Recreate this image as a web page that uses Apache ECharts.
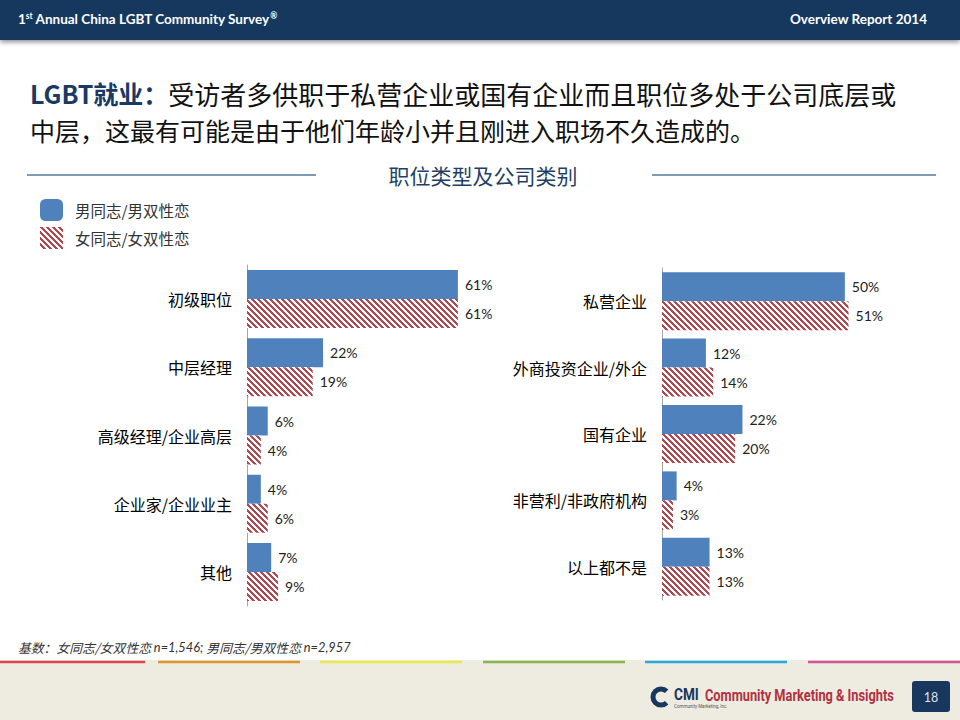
<!DOCTYPE html>
<html>
<head>
<meta charset="utf-8">
<script src="https://cdn.jsdelivr.net/npm/echarts@6/dist/echarts.min.js"></script>
<style>html,body{margin:0;padding:0;background:#fff;}#c{width:960px;height:720px;}</style>
</head>
<body>
<div id="c"></div>
<script>
// ---- data ----
const seriesNames = ['男同志/男双性恋', '女同志/女双性恋'];
const positionCats = ['初级职位', '中层经理', '高级经理/企业高层', '企业家/企业业主', '其他'];
const positionMale = [61, 22, 6, 4, 7];
const positionFemale = [61, 19, 4, 6, 9];
const companyCats = ['私营企业', '外商投资企业/外企', '国有企业', '非营利/非政府机构', '以上都不是'];
const companyMale = [50, 12, 22, 4, 13];
const companyFemale = [51, 14, 20, 3, 13];

// ---- hatch pattern ----
function hatch() {
  const n = 6, cv = document.createElement('canvas');
  cv.width = n; cv.height = n;
  const ctx = cv.getContext('2d');
  ctx.fillStyle = '#ffffff'; ctx.fillRect(0, 0, n, n);
  ctx.fillStyle = '#b04a50';
  for (let x = 0; x < n; x++) for (let y = 0; y < n; y++) {
    if ((((x - y) % n) + n) % n < 3) ctx.fillRect(x, y, 1, 1);
  }
  return cv.toDataURL();
}
const hatchFill = { image: hatch(), repeat: 'repeat' };
const blue = '#4f81bd';
const navy = '#17375e';
const cjk = '"Noto Sans CJK SC", "Noto Sans", sans-serif';
const lat = 'Lato, "Noto Sans CJK SC", sans-serif';

const chart = echarts.init(document.getElementById('c'), null, { renderer: 'svg' });

function barSeries(name, data, idx, fill) {
  return {
    type: 'bar', name: name, data: data, xAxisIndex: idx, yAxisIndex: idx,
    barWidth: 29, barGap: '0%',
    itemStyle: { color: fill },
    label: { show: true, position: 'right', distance: 7, formatter: '{c}%', fontSize: 14, color: '#222', fontFamily: lat },
    emphasis: { disabled: true }, animation: false
  };
}
function yAx(idx, cats) {
  return {
    type: 'category', gridIndex: idx, data: cats, inverse: true,
    axisLine: { show: true, lineStyle: { color: '#a6a6a6', width: 1 } },
    axisTick: { show: false },
    axisLabel: { margin: 15, fontSize: 16, color: '#000', fontFamily: cjk }
  };
}
function xAx(idx) {
  return { type: 'value', gridIndex: idx, min: 0, max: 70, show: false, splitLine: { show: false } };
}

const palette = [
  ['#e0434d', 0, 145], ['#d9982c', 158, 300], ['#e9e84c', 320, 462],
  ['#8db352', 483, 625], ['#29a9dc', 645, 787], ['#d2568f', 808, 960]
];

const graphics = [
  { type: 'rect', shape: { x: 0, y: 660, width: 960, height: 60 }, style: { fill: '#eeebe1' }, silent: true },
  { type: 'rect', shape: { x: 0, y: 0, width: 960, height: 40 }, style: { fill: navy, shadowBlur: 5, shadowColor: 'rgba(0,0,0,0.45)', shadowOffsetY: 2 }, silent: true },
  { type: 'text', x: 18, y: 19, style: { text: '{a|1}{s|st}{a| Annual China LGBT Community Survey}{s|®}', verticalAlign: 'middle',
      rich: { a: { fill: '#fff', fontSize: 13.5, fontWeight: 'bold', fontFamily: lat }, s: { fill: '#fff', fontSize: 8.5, fontWeight: 'bold', fontFamily: lat, verticalAlign: 'top', padding: [0,0,6,0] } } } },
  { type: 'text', x: 927, y: 19, style: { text: 'Overview Report 2014', fill: '#fff', fontSize: 13.5, fontWeight: 'bold', fontFamily: lat, align: 'right', verticalAlign: 'middle' } },
  { type: 'text', x: 30, y: 93, style: {
      text: '{b|LGBT就业：}{n|受访者多供职于私营企业或国有企业而且职位多处于公司底层或}',
      verticalAlign: 'middle',
      rich: {
        b: { fill: '#1b3a63', fontSize: 25, fontWeight: 'bold', fontFamily: cjk, lineHeight: 28 },
        n: { fill: '#111', fontSize: 26, fontFamily: cjk, lineHeight: 28 }
      } } },
  { type: 'text', x: 30, y: 129.5, style: { text: '中层，这最有可能是由于他们年龄小并且刚进入职场不久造成的。', fill: '#111', fontSize: 25, lineHeight: 28, fontFamily: cjk, verticalAlign: 'middle' } },
  { type: 'line', shape: { x1: 27, y1: 175, x2: 316, y2: 175 }, style: { stroke: '#5577a3', lineWidth: 1.5 } },
  { type: 'line', shape: { x1: 652, y1: 175, x2: 936, y2: 175 }, style: { stroke: '#5577a3', lineWidth: 1.5 } },
  { type: 'text', x: 483, y: 175, style: { text: '职位类型及公司类别', fill: '#1f3f66', fontSize: 21, fontFamily: cjk, align: 'center', verticalAlign: 'middle' } },
  { type: 'text', x: 18, y: 647, style: {
      text: '{c|基数：女同志/女双性恋 }{l|n=1,546; }{c|男同志/男双性恋 }{l|n=2,957}', verticalAlign: 'middle',
      rich: { c: { fill: '#333', fontSize: 12.8, fontStyle: 'italic', fontFamily: cjk }, l: { fill: '#333', fontSize: 12.8, fontStyle: 'italic', fontFamily: lat } } } },
  // logo
  { type: 'arc', shape: { cx: 661, cy: 697, r: 8, startAngle: Math.PI * 0.25, endAngle: Math.PI * 1.75 }, style: { stroke: navy, lineWidth: 5, fill: 'none' } },
  { type: 'text', x: 674, y: 695, scaleX: 0.85, style: { text: 'CMI', fill: navy, fontSize: 16, fontWeight: 'bold', fontFamily: 'Roboto, sans-serif', verticalAlign: 'middle' } },
  { type: 'text', x: 674, y: 706, style: { text: 'Community Marketing, Inc.', fill: '#555', fontSize: 4.5, fontFamily: 'Roboto, sans-serif', verticalAlign: 'middle' } },
  { type: 'text', x: 705, y: 696, scaleX: 0.8, style: { text: 'Community Marketing & Insights', fill: '#b0313f', fontSize: 16, fontWeight: 'bold', fontFamily: 'Roboto, sans-serif', verticalAlign: 'middle' } },
  { type: 'rect', shape: { x: 912, y: 681, width: 38, height: 31, r: 3 }, style: { fill: navy } },
  { type: 'text', x: 931, y: 697, style: { text: '18', fill: '#dfe3ea', fontSize: 12.5, fontFamily: lat, align: 'center', verticalAlign: 'middle' } }
];
palette.forEach(function (p) {
  graphics.push({ type: 'line', shape: { x1: p[1], y1: 662, x2: p[2], y2: 662 }, style: { stroke: p[0], lineWidth: 2.5 } });
});

chart.setOption({
  animation: false,
  backgroundColor: '#ffffff',
  legend: {
    orient: 'vertical', left: 40, top: 199, itemWidth: 23, itemHeight: 22, itemGap: 6, padding: 0,
    selectedMode: false,
    data: [{ name: seriesNames[0], icon: 'roundRect' }, { name: seriesNames[1], icon: 'rect' }],
    textStyle: { fontSize: 15.5, color: '#333', fontFamily: cjk, padding: [0, 0, 0, 7] }
  },
  grid: [
    { left: 247, top: 265, width: 242, height: 341 },
    { left: 662, top: 268, width: 256, height: 332 }
  ],
  xAxis: [xAx(0), xAx(1)],
  yAxis: [yAx(0, positionCats), yAx(1, companyCats)],
  series: [
    barSeries(seriesNames[0], positionMale, 0, blue),
    barSeries(seriesNames[1], positionFemale, 0, hatchFill),
    barSeries(seriesNames[0], companyMale, 1, blue),
    barSeries(seriesNames[1], companyFemale, 1, hatchFill)
  ],
  graphic: graphics
});
</script>
</body>
</html>
